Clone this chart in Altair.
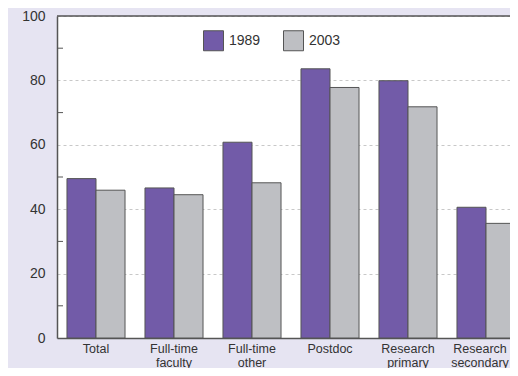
import altair as alt
import pandas as pd

categories = ["Total", "Full-time faculty", "Full-time other", "Postdoc",
              "Research primary", "Research secondary"]
years = ["1989", "2003"]
v1989 = [49.5, 46.6, 60.8, 83.6, 79.9, 40.6]
v2003 = [45.9, 44.5, 48.2, 77.8, 71.8, 35.6]
minor_ticks = [10, 30, 50, 70, 90]
y_labels = [0, 20, 40, 60, 80, 100]

rows = []
for c, a, b in zip(categories, v1989, v2003):
    rows.append({"category": c, "year": "1989", "value": a})
    rows.append({"category": c, "year": "2003", "value": b})
df = pd.DataFrame(rows)
minor_df = pd.DataFrame({"v": minor_ticks})
top_df = pd.DataFrame({"v": [100]})

FONT = "Liberation Sans"

yscale = alt.Scale(domain=[0, 100], nice=False)

bars = alt.Chart(df).mark_bar(stroke="#555555", strokeWidth=1).encode(
    x=alt.X("category:N", sort=categories, title=None,
            scale=alt.Scale(range=[0, 468], paddingInner=0.256, paddingOuter=0.128),
            axis=alt.Axis(labelExpr="split(datum.label, ' ')", labelAngle=0,
                          labelFontSize=12.5, labelColor="#333333", labelFont=FONT,
                          labelPadding=4, labelLineHeight=14, ticks=False,
                          labelOffset={"condition": {"test": "datum.value == 'Research secondary'",
                                                     "value": -6}, "value": 0},
                          domainColor="#555555", domainWidth=1.5, labelBaseline="top")),
    xOffset=alt.XOffset("year:N", sort=years),
    y=alt.Y("value:Q", scale=yscale, title=None,
            axis=alt.Axis(values=y_labels, tickSize=0, labelPadding=12,
                          labelFontSize=14, labelColor="#333333", labelFont=FONT,
                          grid=True, gridDash=[3, 3], gridColor="#c8c8c8",
                          domainColor="#555555", domainWidth=1.5)),
    fill=alt.Fill("year:N", sort=years,
                  scale=alt.Scale(domain=years, range=["#725ba8", "#bebfc3"]),
                  legend=alt.Legend(title=None, orient="none", legendX=146, legendY=14,
                                    direction="horizontal", symbolType="square",
                                    symbolSize=400, symbolStrokeColor="#555555",
                                    symbolStrokeWidth=1, labelFontSize=14,
                                    labelFont=FONT, labelColor="#333333",
                                    labelOffset=5, columnPadding=20)),
)

minor = alt.Chart(minor_df).mark_rule(color="#555555", strokeWidth=1).encode(
    y=alt.Y("v:Q", scale=yscale),
    x=alt.value(0), x2=alt.value(6),
)

top = alt.Chart(top_df).mark_rule(color="#555555", strokeWidth=1.5).encode(
    y=alt.Y("v:Q", scale=yscale),
)

chart = alt.layer(bars, minor, top).properties(
    width=453, height=322,
    autosize=alt.AutoSizeParams(type="none"),
    padding={"left": 49, "top": 8, "right": 0, "bottom": 30},
    background="#e6e4f2",
).configure_view(fill="white", stroke=None)

chart.save("out.html", embed_options={"renderer": "svg", "actions": False})
